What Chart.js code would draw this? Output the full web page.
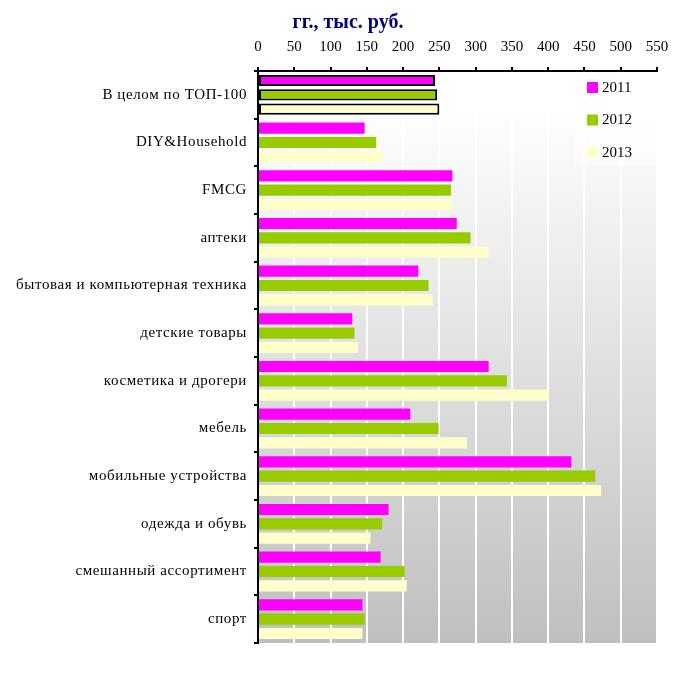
<!DOCTYPE html>
<html>
<head>
<meta charset="utf-8">
<script src="https://cdn.jsdelivr.net/npm/chart.js@4"></script>
<style>
  body { margin: 0; background: #fff; }
  #wrap { width: 680px; height: 679px; }
</style>
</head>
<body>
<div id="wrap"><canvas id="chart" width="680" height="679"></canvas></div>
<script>
var categories = ['В целом по ТОП-100', 'DIY&Household', 'FMCG', 'аптеки',
  'бытовая и компьютерная техника', 'детские товары', 'косметика и дрогери',
  'мебель', 'мобильные устройства', 'одежда и обувь', 'смешанный ассортимент', 'спорт'];
var years = ['2011', '2012', '2013'];
var values2011 = [244, 147, 268, 274, 221, 130, 318, 210, 432, 180, 169, 144];
var values2012 = [247, 163, 266, 293, 235, 133, 343, 249, 465, 171, 202, 147];
var values2013 = [250, 171, 267, 318, 241, 138, 401, 288, 473, 155, 205, 144];
var xTicks = [0, 50, 100, 150, 200, 250, 300, 350, 400, 450, 500, 550];
var colors = ['#ff00ff', '#99cc00', '#ffffcc'];
var titleText = 'гг., тыс. руб.';

var FONT = '"Liberation Serif", "Times New Roman", serif';

// Gradient plot background
var bgPlugin = {
  id: 'bg',
  beforeDraw: function(chart) {
    var a = chart.chartArea, c = chart.ctx;
    c.letterSpacing = '0px';
    var g = c.createLinearGradient(0, a.top, 0, a.bottom);
    g.addColorStop(0, '#ffffff');
    g.addColorStop(0.06, '#ffffff');
    g.addColorStop(1, '#bfbfbf');
    c.save();
    c.fillStyle = g;
    c.fillRect(a.left, a.top, a.right - a.left, a.bottom - a.top);
    c.restore();
  }
};

// Title (partially visible, as in the source)
var titlePlugin = {
  id: 'ttl',
  afterDraw: function(chart) {
    var c = chart.ctx;
    c.letterSpacing = '0px';
    c.save();
    c.font = 'bold 20px ' + FONT;
    c.fillStyle = '#000080';
    c.textAlign = 'center';
    c.textBaseline = 'alphabetic';
    c.fillText(titleText, 348, 28);
    c.restore();
  }
};

// Legend floating in the top-right of the plot
var legendPlugin = {
  id: 'lgd',
  afterDatasetsDraw: function(chart) {
    var c = chart.ctx, a = chart.chartArea;
    var x = a.right - 82, y = a.top + 2;
    c.save();
    c.fillStyle = 'rgba(255,255,255,0.5)';
    c.fillRect(x, y, 82, 92);
    c.font = '15px ' + FONT;
    c.textBaseline = 'middle';
    chart.data.datasets.forEach(function(ds, i) {
      var cy = a.top + 16 + i * 32.5;
      c.fillStyle = ds.backgroundColor;
      c.fillRect(x + 12, cy - 5, 11, 11);
      c.fillStyle = '#000';
      c.fillText(ds.label, x + 27, cy + 1);
    });
    c.restore();
    // category labels (drawn after this, z 1) are spaced a little wider
    c.letterSpacing = '0.6px';
  }
};

function makeDataset(label, data, color) {
  return {
    label: label,
    data: data,
    backgroundColor: color,
    borderColor: '#000',
    borderWidth: function(ctx) { return ctx.dataIndex === 0 ? 2 : 0; },
    borderSkipped: false,
    categoryPercentage: 0.9,
    barPercentage: 0.78
  };
}

new Chart(document.getElementById('chart'), {
  type: 'bar',
  data: {
    labels: categories,
    datasets: [
      makeDataset(years[0], values2011, colors[0]),
      makeDataset(years[1], values2012, colors[1]),
      makeDataset(years[2], values2013, colors[2])
    ]
  },
  plugins: [bgPlugin, titlePlugin, legendPlugin],
  options: {
    indexAxis: 'y',
    responsive: false,
    animation: false,
    layout: { padding: { left: 0, right: 23, top: 0, bottom: 36 } },
    plugins: { legend: { display: false }, tooltip: { enabled: false } },
    scales: {
      x: {
        position: 'top',
        min: 0,
        max: 550,
        afterBuildTicks: function(scale) {
          scale.ticks = xTicks.map(function(v) { return { value: v }; });
        },
        afterFit: function(scale) { scale.height = 71; },
        grid: { color: '#ffffff', lineWidth: 2, tickColor: '#000', tickLength: 4 },
        border: { color: '#000', width: 2 },
        ticks: { color: '#000', font: { family: FONT, size: 15 }, padding: 11, maxRotation: 0 }
      },
      y: {
        afterFit: function(scale) { scale.width = 258; },
        grid: { drawOnChartArea: false, offset: true, tickColor: '#000', tickLength: 4, lineWidth: 2 },
        border: { color: '#000', width: 2, z: 1 },
        ticks: { z: 1, color: '#000', font: { family: FONT, size: 15 }, padding: 7 }
      }
    }
  }
});
</script>
</body>
</html>
